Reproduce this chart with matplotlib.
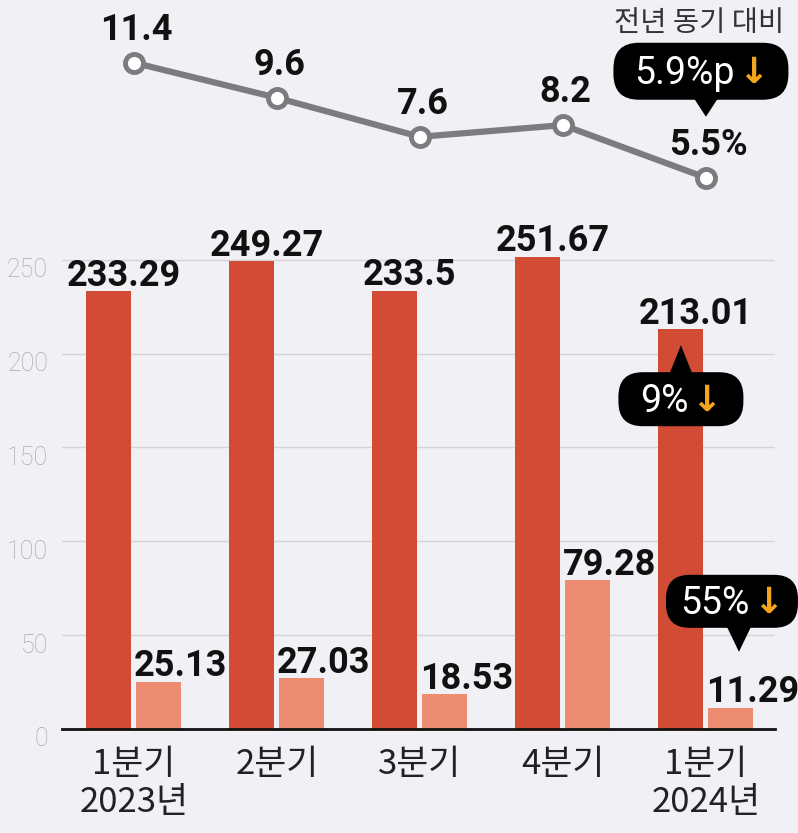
import numpy as np
import matplotlib.pyplot as plt
from matplotlib.patches import FancyBboxPatch, Polygon
from matplotlib.transforms import ScaledTranslation

# 데이터
quarters = ['1분기\n2023년', '2분기', '3분기', '4분기', '1분기\n2024년']
sales = [233.29, 249.27, 233.5, 251.67, 213.01]
profit = [25.13, 27.03, 18.53, 79.28, 11.29]
margin = [11.4, 9.6, 7.6, 8.2, 5.5]
sales_labels = ['233.29', '249.27', '233.5', '251.67', '213.01']
profit_labels = ['25.13', '27.03', '18.53', '79.28', '11.29']
margin_labels = ['11.4', '9.6', '7.6', '8.2', '5.5%']
yticks = [0, 50, 100, 150, 200, 250]
margin_title = '전년 동기 대비'
callout_texts = ['5.9%p', '9%', '55%']

BG = '#f1f1f5'
DARK = '#d24b35'
LIGHT = '#ec8c72'
GRAY = '#7b7b80'
ORANGE = '#f5a51c'
W, H = 798, 833

fig = plt.figure(figsize=(W / 100, H / 100), dpi=100, facecolor=BG)
x = np.arange(len(quarters))

# 막대 차트
ax = fig.add_axes([62 / W, 104 / H, 713 / W, 488 / H])
ax.set_facecolor(BG)
ax.set_xlim(-0.503, 4.483)
ax.set_ylim(0, 260)
ax.bar(x - 0.175, sales, width=0.315, color=DARK, zorder=2)
ax.bar(x + 0.175, profit, width=0.315, color=LIGHT, zorder=2)
ax.set_yticks(yticks)
ax.grid(axis='y', color='#d4d4d8', lw=1)
ax.set_axisbelow(True)
for s in ['top', 'right', 'left']:
    ax.spines[s].set_visible(False)
ax.spines['bottom'].set_linewidth(2)
ax.spines['bottom'].set_color('#111111')
ax.tick_params(length=0)
ax.tick_params(axis='y', pad=10)
ax.tick_params(axis='x', pad=13)
for lab in ax.get_yticklabels():
    lab.set_fontfamily('Roboto')
    lab.set_fontweight('light')
    lab.set_fontsize(18)
    lab.set_color('#a9a9ae')
    lab.set_transform(lab.get_transform() + ScaledTranslation(0, -8 / 100, fig.dpi_scale_trans))
ax.set_xticks(x, quarters)
for lab in ax.get_xticklabels():
    lab.set_fontfamily(['Noto Sans CJK KR', 'DejaVu Sans'])
    lab.set_fontweight('light')
    lab.set_fontsize(25)
    lab.set_color('#222222')
    lab.set_linespacing(1.12)

for i in range(len(x)):
    ax.annotate(sales_labels[i], (x[i] - 0.07, sales[i]), xytext=(0, 4), textcoords='offset points',
                ha='center', va='baseline', fontsize=26, fontweight='bold', family='Roboto', color='#111111')
    ax.annotate(profit_labels[i], (x[i] + 0.175 - 0.1575, profit[i]), xytext=(-2, 4), textcoords='offset points',
                ha='left', va='baseline', fontsize=26, fontweight='bold', family='Roboto', color='#111111')

# 선 차트
lx = fig.add_axes([62 / W, 626 / H, 713 / W, 175.5 / H])
lx.set_xlim(-0.503, 4.483)
lx.set_ylim(4, 13)
lx.axis('off')
lx.plot(x, margin, color=GRAY, lw=4.5, marker='o', ms=13, mfc='white', mec=GRAY, mew=3.5, zorder=3)
for i in range(len(x)):
    lx.annotate(margin_labels[i], (x[i], margin[i]), xytext=(2, 16.5), textcoords='offset points',
                ha='center', va='baseline', fontsize=26, fontweight='bold', family='Roboto', color='#111111')

# 말풍선 (픽셀 좌표 오버레이)
ov = fig.add_axes([0, 0, 1, 1], zorder=10)
ov.set_xlim(0, W)
ov.set_ylim(0, H)
ov.axis('off')
ov.patch.set_alpha(0)
renderer = fig.canvas.get_renderer()

ov.text(699, H - 31, margin_title, ha='center', va='baseline', fontsize=20.5,
        family=['Noto Sans CJK KR', 'DejaVu Sans'], fontweight='light', color='#333333')


def callout(tip, text, box_w, box_h, gap, direction, dx=0):
    tx, ty = tip
    if direction == 'down':
        y0 = ty + gap
        tri = [(tx - 13, y0 + 3), (tx + 13, y0 + 3), (tx, ty)]
    else:
        y0 = ty - gap - box_h
        tri = [(tx - 12, y0 + box_h - 3), (tx + 12, y0 + box_h - 3), (tx, ty)]
    cx = tx + dx
    ov.add_patch(FancyBboxPatch((cx - box_w / 2, y0), box_w, box_h,
                                boxstyle='round,pad=0,rounding_size=%f' % (box_h * 0.45),
                                fc='black', ec='none'))
    ov.add_patch(Polygon(tri, closed=True, fc='black', ec='none'))
    base = y0 + box_h / 2 - 13
    t1 = ov.text(0, base, text, ha='left', va='baseline', fontsize=27, family='Roboto',
                 color='white')
    t2 = ov.text(0, base + 1, '↓', ha='left', va='baseline', fontsize=26, family='DejaVu Sans',
                 fontweight='bold', color=ORANGE)
    w1 = t1.get_window_extent(renderer).width
    w2 = t2.get_window_extent(renderer).width
    start = cx - (w1 + 3 + w2) / 2
    t1.set_x(start)
    t2.set_x(start + w1 + 3)


p_line = lx.transData.transform((x[4], margin[4]))
callout((p_line[0], p_line[1] + 61), callout_texts[0], 175, 57, 17, 'down', dx=-5)
p_bar = ax.transData.transform((x[4] - 0.175, sales[4]))
callout((p_bar[0], p_bar[1] - 16), callout_texts[1], 125, 54, 27, 'up', dx=0)
p_lb = ax.transData.transform((x[4] + 0.175, profit[4]))
callout((p_lb[0] + 8, p_lb[1] + 56), callout_texts[2], 132, 53, 24, 'down', dx=-7)

fig.savefig('out.png', dpi=100, facecolor=BG)
